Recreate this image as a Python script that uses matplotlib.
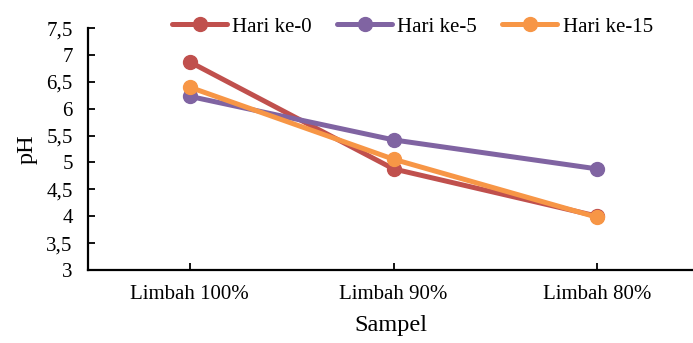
import matplotlib
matplotlib.use("Agg")
import matplotlib.pyplot as plt
from matplotlib.ticker import FuncFormatter

samples = ["Limbah 100%", "Limbah 90%", "Limbah 80%"]
hari_0 = [6.87, 4.88, 4.00]
hari_5 = [6.23, 5.42, 4.88]
hari_15 = [6.40, 5.06, 3.98]

series = [
    ("Hari ke-0", hari_0, "#C0504D"),
    ("Hari ke-5", hari_5, "#8064A2"),
    ("Hari ke-15", hari_15, "#F79646"),
]

plt.rcParams["font.family"] = ["Liberation Serif", "DejaVu Serif"]

fig = plt.figure(figsize=(6.93, 3.43), dpi=100)
ax = fig.add_axes([0.127, 0.213, 0.873, 0.705])

x = range(len(samples))
for name, vals, color in series:
    ax.plot(x, vals, color=color, lw=3.6, marker="o", ms=10, label=name,
            solid_capstyle="round")

ax.set_xlim(-0.5, 2.47)
ax.set_ylim(3, 7.5)
ax.set_yticks([3 + 0.5 * i for i in range(10)])
ax.yaxis.set_major_formatter(FuncFormatter(
    lambda v, _: (f"{v:g}").replace(".", ",")))
ax.set_xticks(list(x), samples)

ax.tick_params(axis="both", direction="in", length=5, width=1.3,
               labelsize=15, colors="black")
ax.tick_params(axis="x", pad=11)
ax.tick_params(axis="y", pad=11)
for side in ("top", "right"):
    ax.spines[side].set_visible(False)
for side in ("left", "bottom"):
    ax.spines[side].set_linewidth(1.6)

ax.set_xlabel("Sampel", fontsize=17.5, labelpad=8)
ax.set_ylabel("pH", fontsize=17.5, labelpad=6)

ax.legend(loc="lower center", bbox_to_anchor=(0.536, 0.93), ncol=3,
          frameon=False, fontsize=15, handlelength=2.65, columnspacing=1.2,
          handletextpad=0.25, borderaxespad=0)

fig.savefig("out.png", dpi=100)
